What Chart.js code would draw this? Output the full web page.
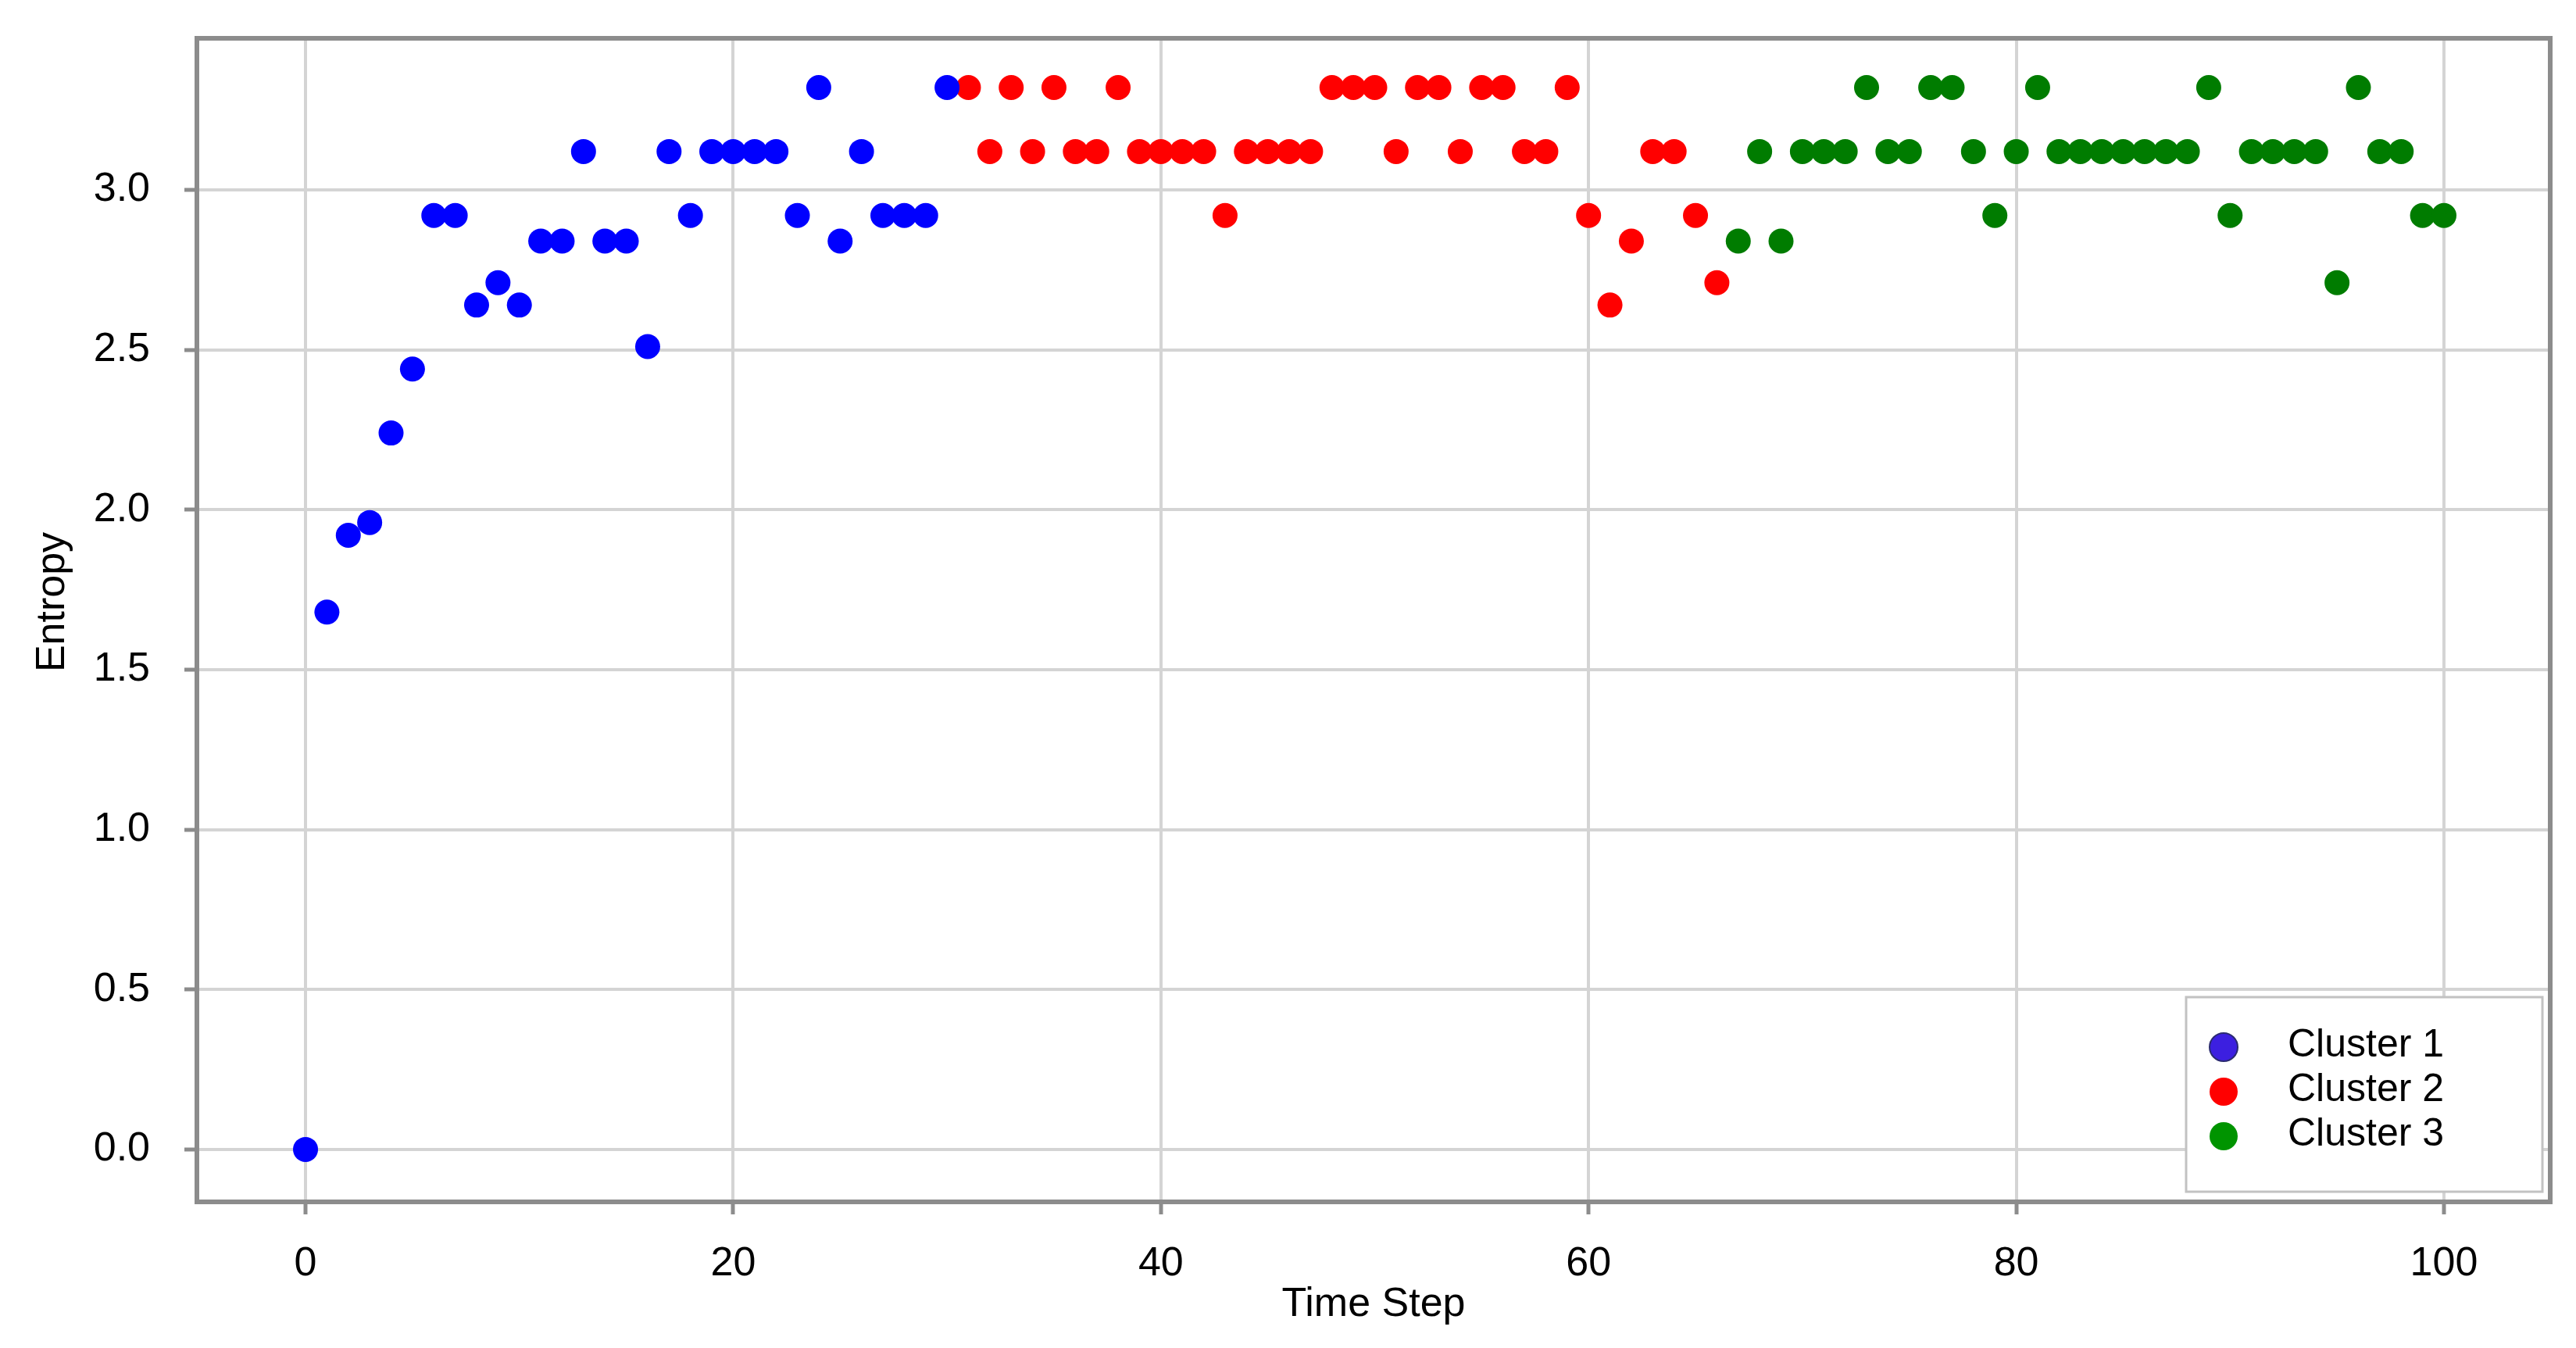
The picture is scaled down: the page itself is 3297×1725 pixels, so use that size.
<!DOCTYPE html>
<html>
<head>
<meta charset="utf-8">
<script src="https://cdn.jsdelivr.net/npm/chart.js@4.4.0/dist/chart.umd.min.js"></script>
<style>
  html, body { margin: 0; padding: 0; background: #fff; }
  #wrap { width: 3297px; height: 1725px; }
</style>
</head>
<body>
<div id="wrap"><canvas id="entropyChart" width="3297" height="1725"></canvas></div>
<script>
// values
const clusterLabels = ['Cluster 1', 'Cluster 2', 'Cluster 3'];

const cluster1Steps = [0, 1, 2, 3, 4, 5, 6, 7, 8, 9, 10, 11, 12, 13, 14, 15, 16, 17, 18, 19, 20, 21, 22, 23, 24, 25, 26, 27, 28, 29, 30];
const cluster1Entropy = [0, 1.68, 1.92, 1.96, 2.24, 2.44, 2.92, 2.92, 2.64, 2.71, 2.64, 2.84, 2.84, 3.12, 2.84, 2.84, 2.51, 3.12, 2.92, 3.12, 3.12, 3.12, 3.12, 2.92, 3.32, 2.84, 3.12, 2.92, 2.92, 2.92, 3.32];

const cluster2Steps = [31, 32, 33, 34, 35, 36, 37, 38, 39, 40, 41, 42, 43, 44, 45, 46, 47, 48, 49, 50, 51, 52, 53, 54, 55, 56, 57, 58, 59, 60, 61, 62, 63, 64, 65, 66];
const cluster2Entropy = [3.32, 3.12, 3.32, 3.12, 3.32, 3.12, 3.12, 3.32, 3.12, 3.12, 3.12, 3.12, 2.92, 3.12, 3.12, 3.12, 3.12, 3.32, 3.32, 3.32, 3.12, 3.32, 3.32, 3.12, 3.32, 3.32, 3.12, 3.12, 3.32, 2.92, 2.64, 2.84, 3.12, 3.12, 2.92, 2.71];

const cluster3Steps = [67, 68, 69, 70, 71, 72, 73, 74, 75, 76, 77, 78, 79, 80, 81, 82, 83, 84, 85, 86, 87, 88, 89, 90, 91, 92, 93, 94, 95, 96, 97, 98, 99, 100];
const cluster3Entropy = [2.84, 3.12, 2.84, 3.12, 3.12, 3.12, 3.32, 3.12, 3.12, 3.32, 3.32, 3.12, 2.92, 3.12, 3.32, 3.12, 3.12, 3.12, 3.12, 3.12, 3.12, 3.12, 3.32, 2.92, 3.12, 3.12, 3.12, 3.12, 2.71, 3.32, 3.12, 3.12, 2.92, 2.92];

const xTickValues = [0, 20, 40, 60, 80, 100];
const yTickValues = [0, 0.5, 1.0, 1.5, 2.0, 2.5, 3.0];

const pointColors = ['#0000ff', '#ff0000', '#007c00'];
const legendColors = ['#3c1fe0', '#ff0000', '#009400'];

const FONT = "'Liberation Sans', Arial, sans-serif";

function toPoints(xs, ys) {
  return xs.map((x, i) => ({ x: x, y: ys[i] }));
}

// frame round the plot, y title and the boxed legend in the lower right corner
const frameAndLegend = {
  id: 'frameAndLegend',
  afterDatasetsDraw(chart) {
    const ctx = chart.ctx;
    const a = chart.chartArea;
    ctx.save();
    ctx.strokeStyle = '#8c8c8c';
    ctx.lineWidth = 6;
    ctx.strokeRect(a.left, a.top, a.right - a.left, a.bottom - a.top);

    // y axis title, sits a little above the middle in the original
    ctx.translate(68, (a.top + a.bottom) / 2 - 23);
    ctx.rotate(-Math.PI / 2);
    ctx.fillStyle = '#000';
    ctx.font = '52px ' + FONT;
    ctx.textAlign = 'center';
    ctx.textBaseline = 'middle';
    ctx.fillText('Entropy', 0, 0);
    ctx.setTransform(1, 0, 0, 1, 0, 0);

    const boxW = 456, boxH = 249;
    const bx = a.right - 10 - boxW;
    const by = a.bottom - 13 - boxH;
    ctx.fillStyle = '#ffffff';
    ctx.fillRect(bx, by, boxW, boxH);
    ctx.strokeStyle = '#c2c2c2';
    ctx.lineWidth = 3;
    ctx.strokeRect(bx, by, boxW, boxH);

    ctx.font = '50px ' + FONT;
    ctx.textAlign = 'left';
    ctx.textBaseline = 'alphabetic';
    chart.data.datasets.forEach((ds, i) => {
      const my = by + 64 + i * 57;
      ctx.beginPath();
      ctx.arc(bx + 48, my, 18, 0, Math.PI * 2);
      ctx.fillStyle = legendColors[i];
      ctx.fill();
      if (i === 0) {
        ctx.strokeStyle = '#2b2b70';
        ctx.lineWidth = 2;
        ctx.stroke();
      }
      ctx.fillStyle = '#000000';
      ctx.fillText(ds.label, bx + 130, my + 12);
    });
    ctx.restore();
  }
};

const seriesSteps = [cluster1Steps, cluster2Steps, cluster3Steps];
const seriesEntropy = [cluster1Entropy, cluster2Entropy, cluster3Entropy];

new Chart(document.getElementById('entropyChart').getContext('2d'), {
  type: 'scatter',
  data: {
    datasets: clusterLabels.map((label, i) => ({
      label: label,
      data: toPoints(seriesSteps[i], seriesEntropy[i]),
      backgroundColor: pointColors[i],
      borderWidth: 0,
      pointRadius: 16,
      pointHoverRadius: 16
    }))
  },
  options: {
    responsive: false,
    devicePixelRatio: 1,
    animation: false,
    layout: { padding: { top: 49, right: 33, bottom: 0, left: 0 } },
    plugins: {
      legend: { display: false },
      tooltip: { enabled: false }
    },
    scales: {
      x: {
        type: 'linear',
        min: -5.08,
        max: 104.97,
        afterBuildTicks: (s) => { s.ticks = xTickValues.map(v => ({ value: v })); },
        afterFit: (s) => { s.height = 187; s.paddingLeft = 0; s.paddingRight = 0; },
        border: { display: false },
        grid: { color: '#d4d4d4', lineWidth: 4, tickLength: 16, tickColor: '#8c8c8c', tickWidth: 5 },
        ticks: { color: '#000', font: { family: FONT, size: 52 }, padding: 32, maxRotation: 0, autoSkip: false },
        title: { display: true, text: 'Time Step', color: '#000', font: { family: FONT, size: 52 }, padding: { top: 0, bottom: 24 } }
      },
      y: {
        type: 'linear',
        min: -0.164,
        max: 3.474,
        afterBuildTicks: (s) => { s.ticks = yTickValues.map(v => ({ value: v })); },
        afterFit: (s) => { s.width = 252; s.paddingTop = 0; s.paddingBottom = 0; },
        border: { display: false },
        grid: { color: '#d4d4d4', lineWidth: 4, tickLength: 16, tickColor: '#8c8c8c', tickWidth: 5 },
        ticks: { color: '#000', font: { family: FONT, size: 52 }, padding: 44, callback: (v) => v.toFixed(1) },
        title: { display: false }
      }
    }
  },
  plugins: [frameAndLegend]
});
</script>
</body>
</html>
